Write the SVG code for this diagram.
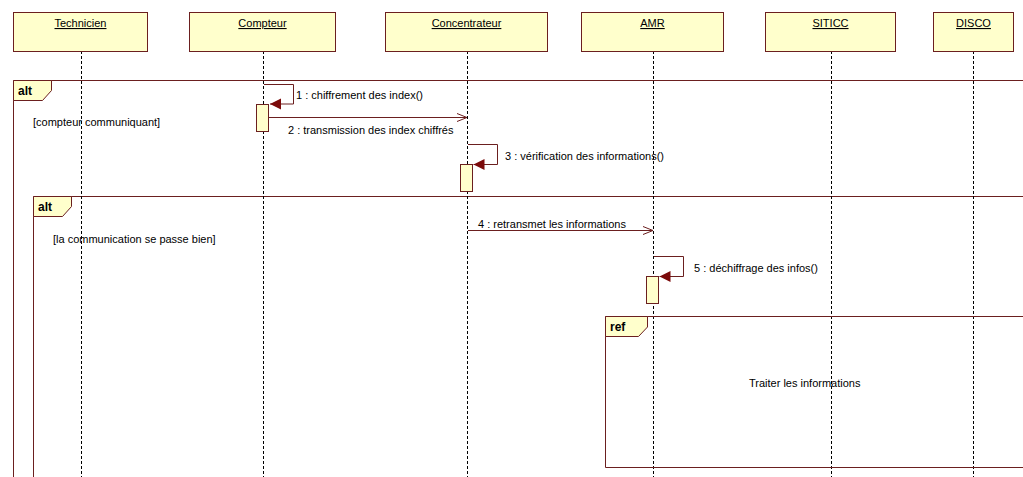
<svg xmlns="http://www.w3.org/2000/svg" width="1023" height="477" viewBox="0 0 1023 477">
<style>
.box{fill:#FFFFCC;stroke:#6B1F1F;stroke-width:1}
.ll{stroke:#000;stroke-width:1;stroke-dasharray:3,2}
.t{font-family:"Liberation Sans",Arial,sans-serif;font-size:11px;fill:#000}
.u{text-decoration:underline}
.b{font-weight:bold;font-size:12px}
.fr{fill:none;stroke:#6B1F1F;stroke-width:1}
.tab{fill:#FFFFCC;stroke:#6B1F1F;stroke-width:1}
.act{fill:#FFFFCC;stroke:#6B1F1F;stroke-width:1}
.msg{fill:none;stroke:#6B1F1F;stroke-width:1}
</style>
<defs>
<marker id="open" markerWidth="12" markerHeight="10" refX="10" refY="5" orient="auto" markerUnits="userSpaceOnUse">
<path d="M0,1 L10,5 L0,9" fill="none" stroke="#6B1F1F" stroke-width="1"/>
</marker>
<marker id="filled" markerWidth="12" markerHeight="12" refX="11" refY="5.5" orient="auto" markerUnits="userSpaceOnUse">
<path d="M0,0 L11,5.5 L0,11 Z" fill="#7B0A0A"/>
</marker>
</defs>
<rect width="1023" height="477" fill="#fff"/>

<g id="frames">
<path class="fr" d="M1023,80.5 H13.5 V477"/>
<path class="tab" d="M13.5,80.5 H51.5 V90.5 L42.5,100.5 H13.5 Z"/>
<text class="t b" x="18" y="95">alt</text>
<text class="t" x="33" y="126">[compteur communiquant]</text>
<path class="fr" d="M1023,196.5 H33.5 V477"/>
<path class="tab" d="M33.5,196.5 H71.5 V206.5 L62.5,216.5 H33.5 Z"/>
<text class="t b" x="38" y="211">alt</text>
<text class="t" x="53" y="243">[la communication se passe bien]</text>
</g>

<g id="lifelines">
<line class="ll" x1="81.5" y1="51" x2="81.5" y2="477"/>
<line class="ll" x1="263.5" y1="51" x2="263.5" y2="477"/>
<line class="ll" x1="467.5" y1="51" x2="467.5" y2="477"/>
<line class="ll" x1="653.5" y1="51" x2="653.5" y2="477"/>
<line class="ll" x1="831.5" y1="51" x2="831.5" y2="477"/>
<line class="ll" x1="973.5" y1="51" x2="973.5" y2="477"/>
</g>

<g id="ref">
<path class="fr" d="M1023,316.5 H605.5 V467.5 H1023" fill="#fff"/>
<path class="tab" d="M605.5,316.5 H647.5 V327 L638.5,336.5 H605.5 Z"/>
<text class="t b" x="610" y="331">ref</text>
<text class="t" x="749" y="387">Traiter les informations</text>
</g>

<g id="Technicien">
<rect class="box" x="13.5" y="12.5" width="134" height="39"/>
<text class="t u" x="80.5" y="27" text-anchor="middle">Technicien</text>
</g>
<g id="Compteur">
<rect class="box" x="189.5" y="12.5" width="146" height="39"/>
<text class="t u" x="262.5" y="27" text-anchor="middle">Compteur</text>
</g>
<g id="Concentrateur">
<rect class="box" x="385.5" y="12.5" width="162" height="39"/>
<text class="t u" x="466.5" y="27" text-anchor="middle">Concentrateur</text>
</g>
<g id="AMR">
<rect class="box" x="581.5" y="12.5" width="142" height="39"/>
<text class="t u" x="652.5" y="27" text-anchor="middle">AMR</text>
</g>
<g id="SITICC">
<rect class="box" x="765.5" y="12.5" width="130" height="39"/>
<text class="t u" x="830.5" y="27" text-anchor="middle">SITICC</text>
</g>
<g id="DISCO">
<rect class="box" x="933.5" y="12.5" width="80" height="39"/>
<text class="t u" x="973.5" y="27" text-anchor="middle">DISCO</text>
</g>

<g id="activations">
<rect class="act" x="256.5" y="104.5" width="12" height="27"/>
<rect class="act" x="460.5" y="164.5" width="12" height="27"/>
<rect class="act" x="646.5" y="276.5" width="12" height="27"/>
</g>

<g id="connectors">
<path class="msg" d="M264,84.5 H293.5 V104 H270" marker-end="url(#filled)"/>
<text class="t" x="296" y="99">1 : chiffrement des index()</text>
<line class="msg" x1="269" y1="117.5" x2="467" y2="117.5" marker-end="url(#open)"/>
<text class="t" x="288" y="134">2 : transmission des index chiffrés</text>
<path class="msg" d="M468,144.5 H497.5 V164.5 H473.5" marker-end="url(#filled)"/>
<text class="t" x="505" y="160">3 : vérification des informations()</text>
<line class="msg" x1="468" y1="230.5" x2="653" y2="230.5" marker-end="url(#open)"/>
<text class="t" x="478" y="228">4 : retransmet les informations</text>
<path class="msg" d="M654,256.5 H683.5 V276.5 H659.5" marker-end="url(#filled)"/>
<text class="t" x="694" y="272">5 : déchiffrage des infos()</text>
</g>
</svg>
